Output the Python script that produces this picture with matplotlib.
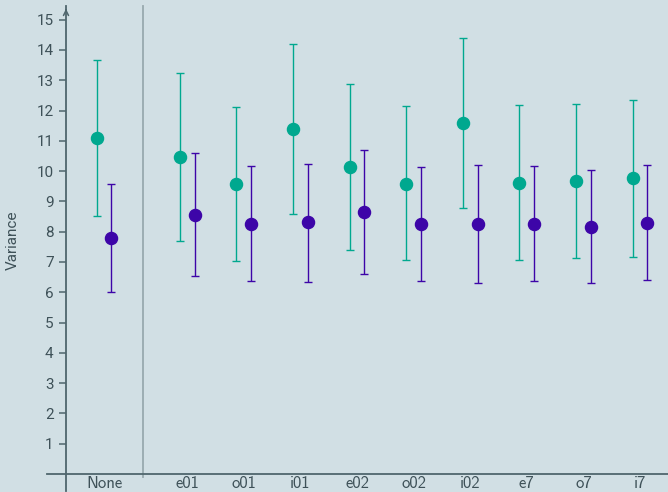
import matplotlib
matplotlib.use("Agg")
import matplotlib.pyplot as plt
import numpy as np

categories = ["None", "e01", "o01", "i01", "e02", "o02", "i02", "e7", "o7", "i7"]
positions = [0.0, 1.47, 2.47, 3.47, 4.47, 5.47, 6.47, 7.47, 8.47, 9.47]

teal_mean = [11.10, 10.48, 9.57, 11.39, 10.12, 9.59, 11.60, 9.62, 9.68, 9.77]
teal_upper = [13.68, 13.25, 12.10, 14.18, 12.86, 12.14, 14.41, 12.17, 12.21, 12.36]
teal_lower = [8.53, 7.70, 7.03, 8.59, 7.38, 7.05, 8.78, 7.06, 7.14, 7.17]

purple_mean = [7.80, 8.56, 8.25, 8.31, 8.65, 8.24, 8.25, 8.26, 8.17, 8.30]
purple_upper = [9.58, 10.59, 10.16, 10.24, 10.68, 10.13, 10.20, 10.16, 10.04, 10.20]
purple_lower = [6.02, 6.54, 6.36, 6.35, 6.61, 6.36, 6.32, 6.36, 6.31, 6.39]

yticks = list(range(1, 16))

bg = "#d1dfe4"
axis_col = "#4f666d"
text_col = "#3e5158"
teal = "#00a88f"
purple = "#3d05a8"

fig = plt.figure(figsize=(6.68, 4.92), dpi=100, facecolor=bg)
ax = fig.add_axes([66/668, 18/492, 602/668, 468/492], facecolor=bg)

off = 0.13
px = np.array(positions)
tm = np.array(teal_mean)
pm = np.array(purple_mean)
ax.errorbar(px - off, tm, yerr=[tm - np.array(teal_lower), np.array(teal_upper) - tm],
            fmt='o', color=teal, ecolor=teal, elinewidth=1.0, capsize=2.6, capthick=1.0,
            markersize=8.7, zorder=3)
ax.errorbar(px + off, pm, yerr=[pm - np.array(purple_lower), np.array(purple_upper) - pm],
            fmt='o', color=purple, ecolor=purple, elinewidth=1.0, capsize=2.6, capthick=1.0,
            markersize=8.7, zorder=3)

ax.set_xlim(-0.672, 9.965)
ax.set_ylim(0, 15.45)

# separator
ax.plot([0.68, 0.68], [-0.1, 15.45], color="#98a9ae", lw=1.3, clip_on=False, zorder=1)

for s in ["top", "right", "bottom"]:
    ax.spines[s].set_visible(False)
ax.spines["left"].set_color(axis_col)
ax.spines["left"].set_linewidth(1.3)
ax.spines["left"].set_bounds(-0.55, 15.45)

# x axis line extending left of y axis
ax.plot([-1.0, 9.965], [0, 0], color=axis_col, lw=1.3, clip_on=False, zorder=2)

# arrow at top of y axis
ax.annotate('', xy=(0, 1.0), xycoords='axes fraction', xytext=(0, 0.985),
            arrowprops=dict(arrowstyle='->', color=axis_col, lw=1.1, mutation_scale=9))

ax.set_yticks(yticks)
ax.set_yticklabels([str(v) for v in yticks])
ax.tick_params(axis='y', direction='out', length=5, width=1.1, color=axis_col,
               labelcolor=text_col, labelsize=11, pad=4)
ax.set_xticks(positions)
ax.set_xticklabels(categories)
ax.tick_params(axis='x', length=0, labelcolor=text_col, labelsize=12, pad=1.5)
for lab in ax.get_yticklabels():
    lab.set_family("Roboto")
for lab in ax.get_xticklabels():
    lab.set_family("cmss10")

ax.set_ylabel("Variance", color=text_col, fontsize=11, family="Roboto", labelpad=12)

fig.savefig("out.png", dpi=100, facecolor=bg)
